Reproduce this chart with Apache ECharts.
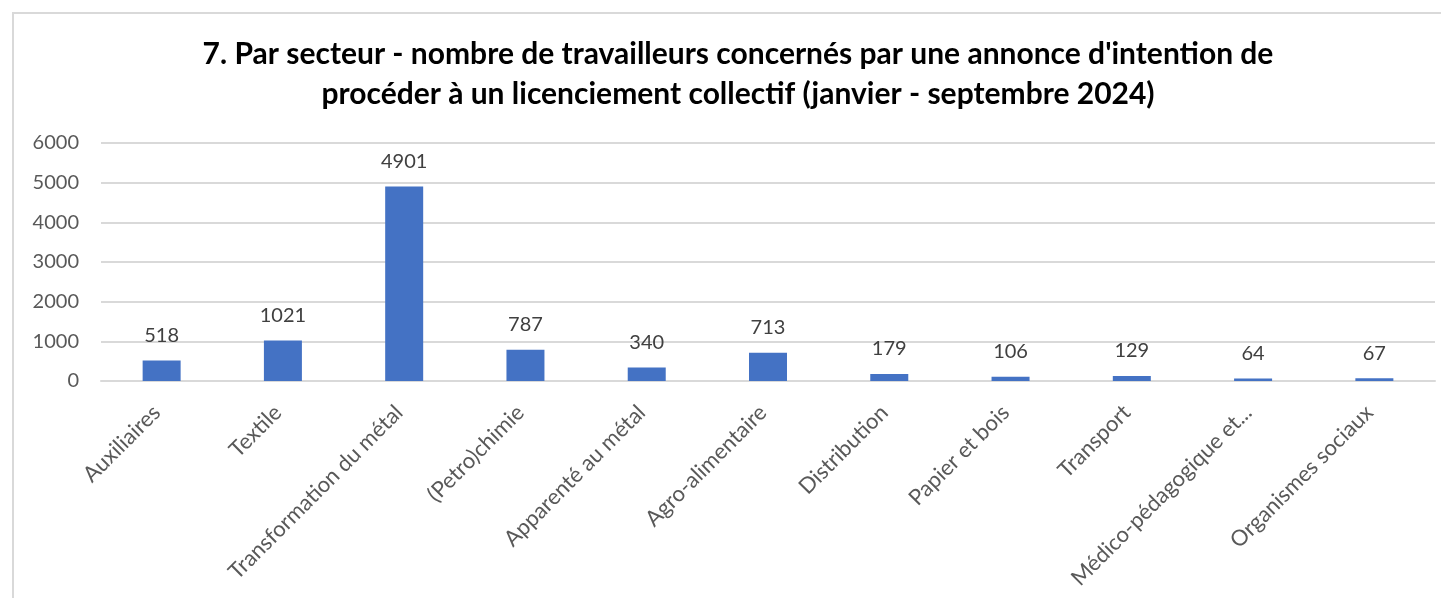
<!DOCTYPE html>
<html>
<head>
<meta charset="utf-8">
<script src="https://cdn.jsdelivr.net/npm/echarts@6/dist/echarts.min.js"></script>
<style>
  html, body { margin: 0; padding: 0; background: #fff; }
  #chart { position: absolute; left: 12px; top: 12px; width: 1429px; height: 586px;
           border-left: 2px solid #d9d9d9; border-top: 2px solid #d9d9d9; box-sizing: border-box; }
</style>
</head>
<body>
<div id="chart"></div>
<script>
// secteurs et nombre de travailleurs
const categories = ['Auxiliaires', 'Textile', 'Transformation du métal', '(Petro)chimie',
  'Apparenté au métal', 'Agro-alimentaire', 'Distribution', 'Papier et bois', 'Transport',
  'Médico-pédagogique et...', 'Organismes sociaux'];
const workers = [518, 1021, 4901, 787, 340, 713, 179, 106, 129, 64, 67];
const yTicks = [0, 1000, 2000, 3000, 4000, 5000, 6000];

const font = 'Lato, "Liberation Sans", sans-serif';

let myChart = echarts.init(document.getElementById('chart'));
myChart.setOption({
  animation: false,
  title: {
    text: "7. Par secteur - nombre de travailleurs concernés par une annonce d'intention de\nprocéder à un licenciement collectif (janvier - septembre 2024)",
    left: 719,
    textAlign: 'center',
    top: 15,
    textStyle: { fontFamily: font, fontSize: 30, fontWeight: 'bold', color: '#000', lineHeight: 40 }
  },
  grid: { left: 87, right: 6, top: 129, bottom: 217 },
  xAxis: {
    type: 'category',
    data: categories,
    axisTick: { show: false },
    axisLine: { lineStyle: { color: '#d9d9d9', width: 2 } },
    axisLabel: { rotate: 45, interval: 0, margin: 23, padding: [0, 7, 0, 0],
                 color: '#595959', fontFamily: font, fontSize: 22 }
  },
  yAxis: {
    type: 'value',
    min: yTicks[0],
    max: yTicks[yTicks.length - 1],
    interval: 1000,
    axisLabel: { margin: 22, color: '#595959', fontFamily: font, fontSize: 20, formatter: v => String(v) },
    splitLine: { lineStyle: { color: '#d9d9d9', width: 2 } }
  },
  series: [{
    type: 'bar',
    data: workers,
    barWidth: 38,
    itemStyle: { color: '#4472c4' },
    label: { show: true, position: 'top', distance: 15, color: '#404040', fontFamily: font, fontSize: 20 }
  }]
});
</script>
</body>
</html>
